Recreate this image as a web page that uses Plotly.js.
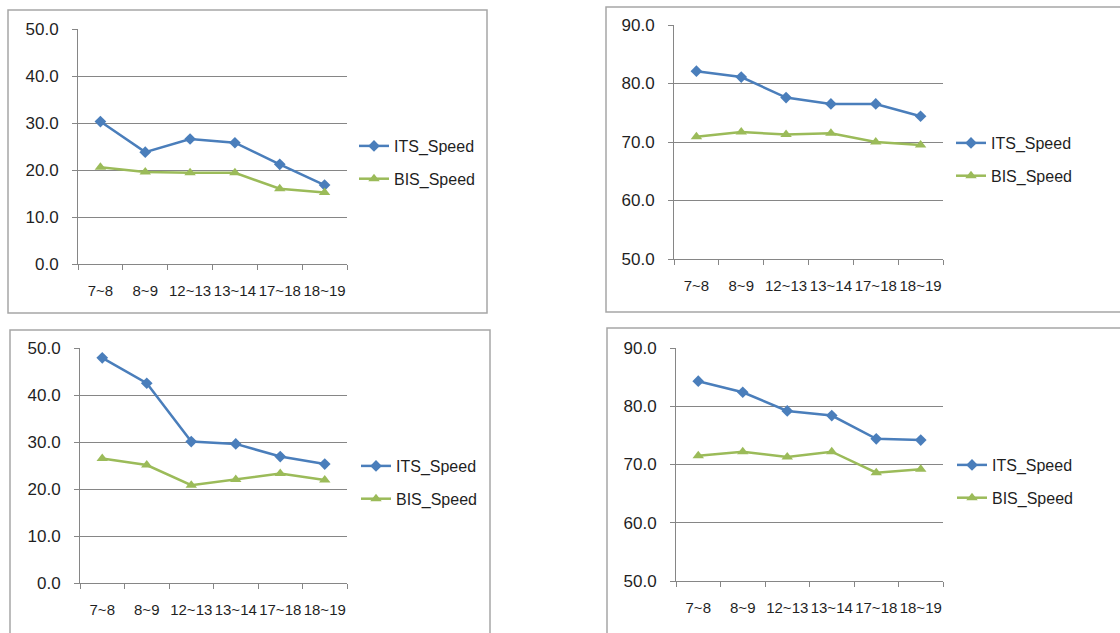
<!DOCTYPE html>
<html>
<head>
<meta charset="utf-8">
<script src="https://cdn.plot.ly/plotly-3.0.1.min.js"></script>
<style>html,body{margin:0;padding:0;background:#fff;}#chart{width:1120px;height:633px;}</style>
</head>
<body>
<div id="chart"></div>
<script>
// ---- data ----
const categories = ['7~8', '8~9', '12~13', '13~14', '17~18', '18~19'];
const seriesNames = ['ITS_Speed', 'BIS_Speed'];
const its1 = [30.3, 23.8, 26.6, 25.8, 21.2, 16.8];
const bis1 = [20.6, 19.6, 19.4, 19.4, 16.0, 15.2];
const its2 = [82.1, 81.1, 77.6, 76.5, 76.5, 74.4];
const bis2 = [70.9, 71.7, 71.3, 71.5, 70.0, 69.5];
const its3 = [47.9, 42.5, 30.1, 29.6, 26.9, 25.3];
const bis3 = [26.5, 25.1, 20.8, 22.0, 23.3, 21.9];
const its4 = [84.3, 82.4, 79.2, 78.4, 74.4, 74.2];
const bis4 = [71.5, 72.2, 71.3, 72.2, 68.6, 69.2];
const yRanges = [[0, 50], [50, 90], [0, 50], [50, 90]];

// ---- layout geometry (pixels) ----
const W = 1120, H = 633;
const panels = [
  {its: its1, bis: bis1, x0: 78, x1: 347, yTop: 29, yBot: 264, frame: [8, 10, 487, 313], legX: 354, legY: 129},
  {its: its2, bis: bis2, x0: 674, x1: 943, yTop: 25, yBot: 259, frame: [606, 7, 1130, 312], legX: 951, legY: 126},
  {its: its3, bis: bis3, x0: 80, x1: 347, yTop: 348, yBot: 583, frame: [10, 330, 490, 645], legX: 356, legY: 449},
  {its: its4, bis: bis4, x0: 676, x1: 943, yTop: 348, yBot: 581, frame: [607, 328, 1130, 645], legX: 952, legY: 448}
];
const blue = '#4A7EBB', green = '#9BBB59';
const tickFont = {family: 'Liberation Sans, Arial, sans-serif', size: 15, color: '#1f1f1f'};
const yTickFont = {family: 'Liberation Sans, Arial, sans-serif', size: 17, color: '#1f1f1f'};
const legFont = {family: 'Liberation Sans, Arial, sans-serif', size: 16, color: '#1f1f1f'};

const traces = [];
const layout = {
  width: W, height: H,
  margin: {l: 0, r: 0, t: 0, b: 0},
  paper_bgcolor: '#ffffff', plot_bgcolor: 'rgba(0,0,0,0)',
  shapes: [],
  showlegend: true
};

panels.forEach((p, i) => {
  const n = i === 0 ? '' : String(i + 1);
  const legName = 'legend' + n;
  traces.push({
    x: categories, y: p.its, name: seriesNames[0], type: 'scatter', mode: 'lines+markers',
    xaxis: 'x' + n, yaxis: 'y' + n, legend: legName, legendgroup: 'its' + i,
    line: {color: blue, width: 2.5}, marker: {symbol: 'diamond', size: 9, color: blue}
  });
  traces.push({
    x: categories, y: p.bis, name: seriesNames[1], type: 'scatter', mode: 'lines+markers',
    xaxis: 'x' + n, yaxis: 'y' + n, legend: legName, legendgroup: 'bis' + i,
    line: {color: green, width: 2.5}, marker: {symbol: 'triangle-up', size: 10, color: green}
  });
  layout['xaxis' + n] = {
    domain: [p.x0 / W, p.x1 / W], anchor: 'y' + n,
    type: 'category', range: [-0.5, categories.length - 0.5],
    showgrid: false, zeroline: false,
    showline: true, linecolor: '#868686', linewidth: 1,
    ticks: 'outside', tickson: 'boundaries', ticklen: 5, tickcolor: '#868686',
    tickangle: 0, tickfont: tickFont, ticklabelstandoff: 13, fixedrange: true
  };
  layout['yaxis' + n] = {
    domain: [1 - p.yBot / H, 1 - p.yTop / H], anchor: 'x' + n,
    range: yRanges[i], dtick: 10, tick0: 0, tickformat: '.1f',
    showgrid: true, gridcolor: '#868686', gridwidth: 1, zeroline: false,
    showline: true, linecolor: '#868686', linewidth: 1,
    ticks: 'outside', ticklen: 5, tickcolor: '#868686',
    tickfont: yTickFont, ticklabelstandoff: 10, fixedrange: true
  };
  layout[legName] = {
    x: p.legX / W, y: 1 - p.legY / H, xanchor: 'left', yanchor: 'top',
    bgcolor: 'rgba(0,0,0,0)', borderwidth: 0, font: legFont,
    tracegroupgap: 9, itemwidth: 30
  };
  const f = p.frame;
  layout.shapes.push({
    type: 'rect', xref: 'paper', yref: 'paper', layer: 'below',
    x0: f[0] / W, x1: f[2] / W, y0: 1 - f[3] / H, y1: 1 - f[1] / H,
    line: {color: '#a6a6a6', width: 1.5}, fillcolor: 'rgba(0,0,0,0)'
  });
});

Plotly.newPlot('chart', traces, layout, {displayModeBar: false, staticPlot: true});
</script>
</body>
</html>
